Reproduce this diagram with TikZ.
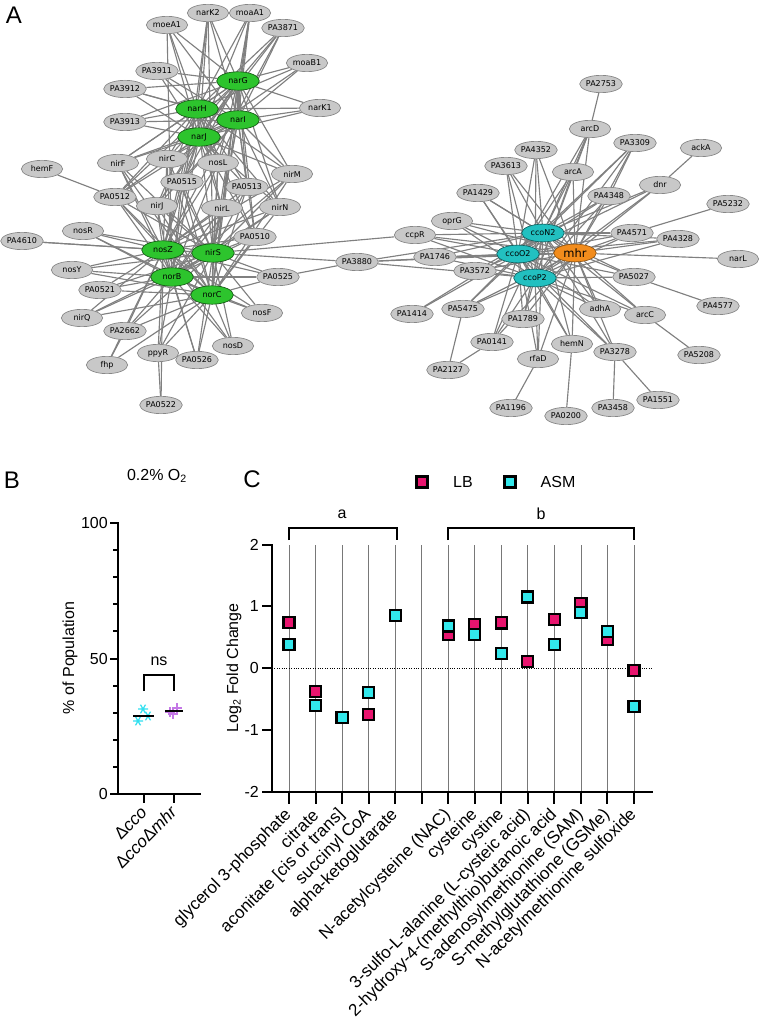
\documentclass[tikz,border=0pt]{standalone}
\usepackage{fontspec}
\setmainfont{Liberation Sans}
\newfontfamily\netfont{DejaVu Sans}
\usetikzlibrary{shapes.geometric,backgrounds}
\definecolor{nodegray}{RGB}{200,200,200}
\definecolor{nodeborder}{RGB}{135,135,135}
\definecolor{edgegray}{RGB}{128,128,128}
\definecolor{hubgreen}{RGB}{45,196,45}
\definecolor{hubteal}{RGB}{34,192,192}
\definecolor{huborange}{RGB}{242,140,28}
\definecolor{lbcol}{RGB}{232,20,110}
\definecolor{asmcol}{RGB}{50,232,236}
\definecolor{astcol}{RGB}{48,224,240}
\definecolor{pluscol}{RGB}{196,120,230}
\definecolor{catgray}{RGB}{120,120,120}
\tikzset{
  gn/.style={ellipse, draw=nodeborder, line width=0.5pt, fill=nodegray, minimum width=31pt, minimum height=13pt, inner sep=0pt, font=\netfont\fontsize{6}{7}\selectfont},
  grnhub/.style={gn, fill=hubgreen, draw=black!55!hubgreen, minimum width=32pt, minimum height=13.8pt},
  tealhub/.style={gn, fill=hubteal, draw=black!50!hubteal, minimum width=32pt, minimum height=13.3pt},
  orghub/.style={gn, fill=huborange, draw=black!40!huborange, minimum width=32pt, minimum height=13.3pt, font=\netfont\fontsize{8.6}{10}\selectfont},
  edge/.style={draw=edgegray, line width=0.85pt},
  axisline/.style={line width=2pt, line cap=rect},
  tickline/.style={line width=1.5pt},
  lbl/.style={font=\fontsize{12}{14}\selectfont, inner sep=0pt},
  catlbl/.style={font=\fontsize{12.8}{14}\selectfont, inner sep=0pt, rotate=45, anchor=east},
  panel/.style={font=\fontsize{18}{20}\selectfont, inner sep=0pt},
  lbsq/.style={rectangle, draw=black, line width=1.6pt, fill=lbcol, minimum size=8.3pt, inner sep=0pt},
  asmsq/.style={lbsq, fill=asmcol},
  astmark/.pic={\draw[astcol, line width=0.9pt] (-5,0)--(5,0) (-2.5,-4.33)--(2.5,4.33) (-2.5,4.33)--(2.5,-4.33);},
  plusmark/.pic={\draw[pluscol, line width=0.9pt] (-5,0)--(5,0) (0,-5)--(0,5);}
}
\begin{document}
\begin{tikzpicture}[x=0.75pt,y=-0.75pt]
\useasboundingbox (0,0) rectangle (762,1019);
% ---------------- Panel A : network ----------------
\node[panel] (pA) at (14,15) {A};
\foreach \n/\x/\y in {moeA1/167/25, narK2/208/13, moaA1/250/13, PA3871/283/28, moaB1/307/63,
  PA3911/157/71, PA3912/125/89, narK1/320/108, PA3913/125/122, hemF/42/169, nirF/118/163,
  nirC/167/159, nosL/218/163, nirM/292/174, PA0515/182/182, PA0513/247/187, PA0512/115/197,
  nirJ/157/206, nirL/222/208, nirN/280/207, nosR/83/231, PA4610/22/241, PA0510/255/237,
  nosY/72/270, PA0525/278/277, PA0521/100/290, nosF/262/313, nirQ/82/318, PA2662/125/331,
  nosD/233/346, ppyR/158/353, PA0526/197/360, fhp/107/365, PA0522/161/405}
  \node[gn] (\n) at (\x,\y) {\n};
\foreach \n/\x/\y in {narG/238/81, narH/197/109, narI/238/120, narJ/199/137,
  nosZ/163/250, nirS/213/253, norB/172/277, norC/212/295}
  \node[grnhub] (\n) at (\x,\y) {\n};
\foreach \n/\x/\y in {PA2753/601/84, arcD/590/129, PA3309/635/143, ackA/701/148, PA4352/536/150,
  PA3613/506/166, arcA/573/172, dnr/660/185, PA1429/478/193, PA4348/609/196, PA5232/728/204,
  oprG/452/221, PA4571/632/233, ccpR/415/235, PA4328/678/239, narL/738/259, PA3880/357/262,
  PA1746/435/257, PA3572/475/271, PA5027/634/277, PA4577/718/306, PA1414/412/314, PA5475/463/309,
  adhA/600/309, arcC/645/315, PA1789/523/319, PA0141/492/342, hemN/572/344, PA3278/615/352,
  PA5208/699/355, rfaD/538/359, PA2127/448/370, PA1551/658/400, PA1196/511/408, PA3458/613/408,
  PA0200/566/416}
  \node[gn] (\n) at (\x,\y) {\n};
\foreach \n/\x/\y in {ccoN2/543/233, ccoO2/518/254, ccoP2/535/278}
  \node[tealhub] (\n) at (\x,\y) {\n};
\node[orghub] (mhr) at (575,253) {mhr};
\begin{pgfonlayer}{background}
  \fill[white] (0,0) rectangle (762,1019);
  % left cluster
  \foreach \a in {moeA1,narK2,moaA1,PA3871,moaB1,PA3911,PA3912,PA3913,narK1}
    \foreach \b in {narG,narH,narI,narJ} \draw[edge] (\a) -- (\b);
  \foreach \a in {nirF,nirC,nosL,nirM,PA0515,PA0513,PA0512,nirJ,nirL,nirN,PA0510}
    \foreach \b in {narG,narH,narI,narJ,nosZ,nirS,norB,norC} \draw[edge] (\a) -- (\b);
  \foreach \a in {nosR,nosY,PA0521,nirQ,PA2662,ppyR,PA0526,nosD,nosF,PA0525}
    \foreach \b in {nosZ,nirS,norB,norC} \draw[edge] (\a) -- (\b);
  \foreach \a/\b in {narG/narH,narG/narI,narG/narJ,narH/narI,narH/narJ,narI/narJ,
    nosZ/nirS,nosZ/norB,nosZ/norC,nirS/norB,nirS/norC,norB/norC,
    narH/nosZ,narJ/nosZ,narI/nirS,narG/norC,narJ/norB,narH/nirS,
    narK2/nirS,moaA1/norC,moaA1/nirS,PA3871/nosZ,moeA1/norB,narK2/norB,
    PA4610/nosZ,PA4610/nirS,hemF/PA0512,fhp/PA2662,fhp/norC,fhp/nosZ,
    PA0522/ppyR,PA0522/nosZ,
    nirS/ccpR,nirS/PA3880,PA0525/PA3880}
    \draw[edge] (\a) -- (\b);
  % right cluster
  \foreach \a in {PA4352,PA3613,arcA,dnr,PA1429,PA4348,oprG,ccpR,PA4571,PA4328,PA1746,PA3572,
    PA5027,PA5475,adhA,arcC,PA1789,PA0141,hemN,PA3278,rfaD,PA3880,PA3309,arcD}
    \foreach \b in {ccoN2,ccoO2,ccoP2,mhr} \draw[edge] (\a) -- (\b);
  \foreach \a/\b in {ccoN2/ccoO2,ccoN2/ccoP2,ccoN2/mhr,ccoO2/ccoP2,ccoO2/mhr,ccoP2/mhr,
    PA1414/ccoO2,PA1414/ccoN2,PA2753/arcD,ackA/dnr,PA5232/PA4571,narL/mhr,PA4577/PA5027,
    PA5208/arcC,PA1551/PA3278,PA3458/PA3278,PA0200/hemN,PA1196/rfaD,PA2127/PA0141,
    PA2127/PA5475,arcD/arcA,PA3309/PA4348}
    \draw[edge] (\a) -- (\b);
\end{pgfonlayer}
% ---------------- Panel B ----------------
\node[panel] (pB) at (12,480) {B};
\node[lbl] (btitle) at (157,476) {0.2\% O\textsubscript{2}};
\draw[axisline] (118,523) -- (118,794) -- (200,794);
\foreach \v in {10,20,30,40,60,70,80,90}
  \draw[tickline] (113,{794-2.71*\v}) -- (118,{794-2.71*\v});
\foreach \v in {0,50,100} {
  \draw[tickline] (110,{794-2.71*\v}) -- (118,{794-2.71*\v});
  \node[lbl, anchor=east] (by\v) at (108,{794-2.71*\v}) {\v};
}
\draw[tickline] (144,794) -- (144,803);
\draw[tickline] (174,794) -- (174,803);
\node[lbl, rotate=90] (bylab) at (70,658) {\% of Population};
\node[catlbl] (bx1) at (144,809) {Δ\textit{cco}};
\node[catlbl] (bx2) at (174,809) {Δ\textit{cco}Δ\textit{mhr}};
\node[lbl] (ns) at (159,661) {ns};
\draw[line width=0.9pt] (144,691) -- (144,675) -- (174,675) -- (174,691);
\pic at (143,709) {astmark};
\pic at (138,721) {astmark};
\pic at (148,716) {astmark};
\pic at (170,712) {plusmark};
\pic at (177,708) {plusmark};
\pic at (173,714) {plusmark};
\draw[line width=1.1pt] (133,716) -- (154,716);
\draw[line width=1.1pt] (165,711) -- (183,711);
% ---------------- Panel C ----------------
\node[panel] (pC) at (252,479) {C};
\node[lbsq] (legLB) at (422,482) {};
\node[lbl] (legLBt) at (463,482) {LB};
\node[asmsq] (legASM) at (510,482) {};
\node[lbl] (legASMt) at (558,482) {ASM};
\node[lbl] (ba) at (342,514) {a};
\draw[line width=0.8pt] (289,540) -- (289,528) -- (397,528) -- (397,540);
\node[lbl] (bb) at (541,514) {b};
\draw[line width=0.8pt] (448,540) -- (448,528) -- (634,528) -- (634,540);
\foreach \i in {1,...,14}
  \draw[catgray, line width=0.6pt] ({289+26.54*(\i-1)},545) -- ({289+26.54*(\i-1)},792);
\draw[line width=0.5pt, dash pattern=on 0.8pt off 1pt] (272,668) -- (652,668);
\draw[axisline] (272,545) -- (272,792) -- (652,792);
\foreach \v in {-2,-1,0,1,2} {
  \draw[tickline] (262,{668-61.75*\v}) -- (272,{668-61.75*\v});
  \node[lbl, anchor=east] (cy\v) at (259,{668-61.75*\v}) {\v};
}
\foreach \i in {1,...,14}
  \draw[tickline] ({289+26.54*(\i-1)},792) -- ({289+26.54*(\i-1)},804);
\node[lbl, rotate=90] (cylab) at (234,668) {Log\textsubscript{2} Fold Change};
\foreach \i/\t in {1/{glycerol 3-phosphate}, 2/{citrate}, 3/{aconitate [cis or trans]},
  4/{succinyl CoA}, 5/{alpha-ketoglutarate}, 7/{N-acetylcysteine (NAC)}, 8/{cysteine},
  9/{cystine}, 10/{3-sulfo-L-alanine (L-cysteic acid)}, 11/{2-hydroxy-4-(methylthio)butanoic acid},
  12/{S-adenosylmethionine (SAM)}, 13/{S-methylglutathione (GSMe)}, 14/{N-acetylmethionine sulfoxide}}
  \node[catlbl] (cx\i) at ({289+26.54*(\i-1)},812) {\t};
\foreach \i/\v in {1/0.74, 2/-0.38, 3/-0.80, 4/-0.75, 5/0.85, 7/0.54, 8/0.70, 9/0.73,
  10/0.10, 11/0.78, 12/1.05, 13/0.46, 14/-0.04}
  \node[lbsq] (lb\i) at ({289+26.54*(\i-1)},{668-61.75*\v}) {};
\foreach \i/\v in {1/0.38, 2/-0.61, 3/-0.80, 4/-0.40, 5/0.85, 7/0.68, 8/0.54, 9/0.24,
  10/1.15, 11/0.38, 12/0.90, 13/0.59, 14/-0.62}
  \node[asmsq] (asm\i) at ({289+26.54*(\i-1)},{668-61.75*\v}) {};
\end{tikzpicture}
\end{document}
